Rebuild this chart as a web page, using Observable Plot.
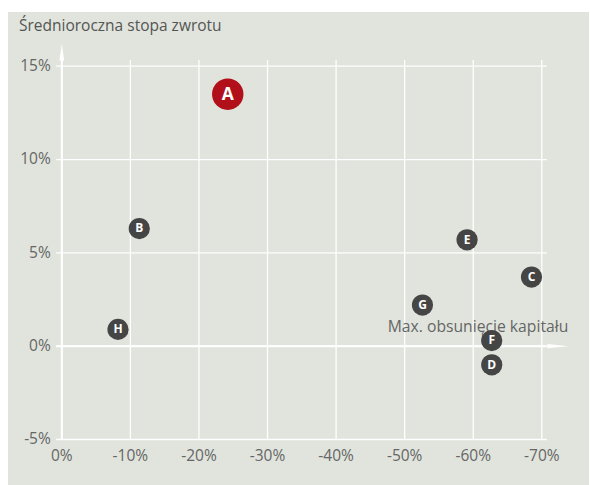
<!DOCTYPE html>
<html>
<head>
<meta charset="utf-8">
<script src="https://cdn.jsdelivr.net/npm/d3@7"></script>
<script src="https://cdn.jsdelivr.net/npm/@observablehq/plot@0.6"></script>
<style>
  body { margin: 0; background: #ffffff; }
  #wrap { position: relative; width: 590px; height: 485px; overflow: hidden; }
  #panel { position: absolute; left: 8px; top: 12px; width: 581px; height: 473px; background: #e0e4dc; }
  #chart { position: absolute; left: 0; top: 0; }
  #title { position: absolute; left: 19px; top: 14px; font-family: "Open Sans", sans-serif; font-size: 15.5px; color: #555; white-space: nowrap; }
</style>
</head>
<body>
<div id="wrap">
  <div id="panel"></div>
  <div id="chart"></div>
  <div id="title">Średnioroczna stopa zwrotu</div>
</div>
<script>
// Data
const labels   = ["A", "B", "C", "D", "E", "F", "G", "H"];
const drawdown = [-24.2, -11.3, -68.5, -62.7, -59.1, -62.7, -52.6, -8.2]; // Max. obsunięcie kapitału (%)
const returns  = [13.5, 6.3, 3.7, -1.0, 5.7, 0.3, 2.2, 0.9];             // Średnioroczna stopa zwrotu (%)
const highlighted = "A";
const xTicks = [0, -10, -20, -30, -40, -50, -60, -70];
const yTicks = [-5, 0, 5, 10, 15];
const xLabel = "Max. obsunięcie kapitału";

const points = labels.map((label, i) => ({label, x: drawdown[i], y: returns[i]}));

const upHead = {draw(ctx) { ctx.moveTo(0, -17); ctx.lineTo(2.4, 0); ctx.lineTo(-2.4, 0); ctx.closePath(); }};
const rightHead = {draw(ctx) { ctx.moveTo(21, 0); ctx.lineTo(0, 2.2); ctx.lineTo(0, -2.2); ctx.closePath(); }};

const gridX1 = 0.75, gridX2 = -70.8, gridYTop = 15.3;

const chart = Plot.plot({
  width: 590,
  height: 485,
  marginLeft: 61.3,
  marginRight: 48.7,
  marginTop: 65.7,
  marginBottom: 46,
  style: {background: "transparent", fontFamily: "'Open Sans', sans-serif", fontSize: "15.5px", color: "#666"},
  x: {domain: [0, -70]},
  y: {domain: [-5, 15]},
  marks: [
    Plot.ruleY(yTicks, {x1: gridX1, x2: gridX2, stroke: "white", strokeWidth: 1.3}),
    Plot.ruleX(xTicks, {y1: -5, y2: gridYTop, stroke: "white", strokeWidth: 1.3}),
    Plot.ruleY([0], {x1: gridX1, x2: gridX2, stroke: "white", strokeWidth: 2}),
    Plot.ruleX([0], {y1: -5, y2: gridYTop, stroke: "white", strokeWidth: 2}),
    Plot.dot([0], {x: 0, y: gridYTop, symbol: upHead, fill: "white", stroke: null}),
    Plot.dot([0], {x: gridX2, y: 0, symbol: rightHead, fill: "white", stroke: null}),
    Plot.axisX(xTicks, {tickSize: 0, tickPadding: 10, tickFormat: d => `${d}%`, label: null, fill: "#666", fontSize: 15.5}),
    Plot.axisY(yTicks, {tickSize: 0, tickPadding: 11, tickFormat: d => `${d}%`, label: null, fill: "#666", fontSize: 15.5}),
    Plot.text([xLabel], {x: gridX2, y: 0, text: d => d, textAnchor: "end", dx: 21, dy: -19, fontSize: 15.7, fill: "#666"}),
    Plot.dot(points.filter(d => d.label !== highlighted), {x: "x", y: "y", r: 10.6, fill: "#454545", stroke: null}),
    Plot.dot(points.filter(d => d.label === highlighted), {x: "x", y: "y", r: 15.7, fill: "#b10f1a", stroke: null}),
    Plot.text(points.filter(d => d.label !== highlighted), {x: "x", y: "y", text: "label", fill: "white", fontWeight: "bold", fontSize: 12}),
    Plot.text(points.filter(d => d.label === highlighted), {x: "x", y: "y", text: "label", fill: "white", fontWeight: "bold", fontSize: 17.5})
  ]
});
document.getElementById("chart").appendChild(chart);
</script>
</body>
</html>
